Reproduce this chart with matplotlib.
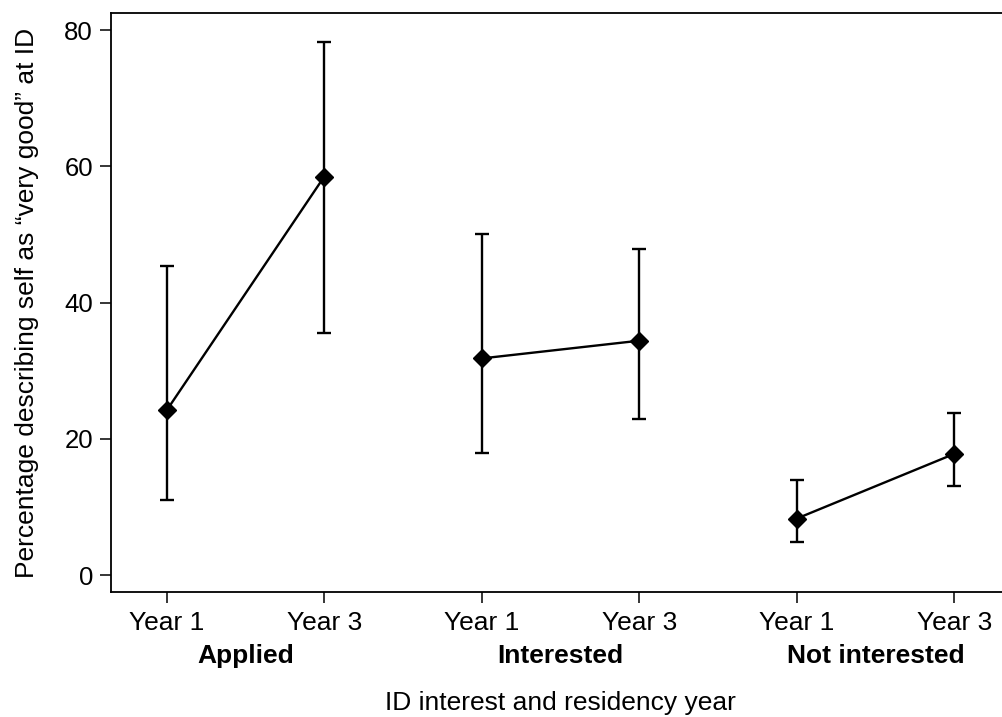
import matplotlib
matplotlib.use("Agg")
import matplotlib.pyplot as plt

# values (percent, with 95% CI)
groups = ["Applied", "Interested", "Not interested"]
years = ["Year 1", "Year 3"]
pct = [24.2, 58.5, 31.8, 34.4, 8.3, 17.8]
ci_low = [11.0, 35.5, 17.9, 22.9, 4.8, 13.0]
ci_high = [45.3, 78.3, 50.1, 47.9, 14.0, 23.8]
y_ticks = [0, 20, 40, 60, 80]

plt.rcParams["font.family"] = ["Liberation Sans", "DejaVu Sans"]
FS = 19

fig = plt.figure(figsize=(10.02, 7.17), dpi=100)
# right spine sits just outside the picture, as in the reference
ax = fig.add_axes([0.1108, 0.1747, 0.8974, 0.8067])

xs = list(range(1, len(pct) + 1))
for g in range(len(groups)):
    sl = slice(2 * g, 2 * g + 2)
    x = xs[sl]
    y = pct[sl]
    err = [[m - lo for m, lo in zip(y, ci_low[sl])],
           [hi - m for m, hi in zip(y, ci_high[sl])]]
    ax.errorbar(x, y, yerr=err, color="black", lw=1.7, elinewidth=1.7,
                capsize=5, capthick=1.7, marker="D", ms=9, mfc="black",
                mec="black", zorder=3)

ax.set_xlim(0.646, 6.354)
ax.set_ylim(-2.45, 82.45)
ax.set_yticks(y_ticks)
ax.set_xticks(xs)
ax.set_xticklabels(years * len(groups))
ax.tick_params(axis="both", length=8, width=1.1, labelsize=FS, color="black")
ax.tick_params(axis="y", labelsize=18.5, pad=5)
ax.tick_params(axis="x", pad=6)
for s in ax.spines.values():
    s.set_linewidth(1.3)

trans = ax.get_xaxis_transform()
for g, name in enumerate(groups):
    ax.text((xs[2 * g] + xs[2 * g + 1]) / 2, -0.1233, name, transform=trans,
            ha="center", va="baseline", fontsize=FS, fontweight="bold")

ax.set_ylabel("Percentage describing self as \u201cvery good\u201d at ID", fontsize=FS)
ax.yaxis.set_label_coords(-0.08, 0.5)
ax.set_xlabel("ID interest and residency year", fontsize=FS)
ax.xaxis.set_label_coords(0.5, -0.2045)
ax.xaxis.label.set_va("baseline")

fig.savefig("out.png", dpi=100)
